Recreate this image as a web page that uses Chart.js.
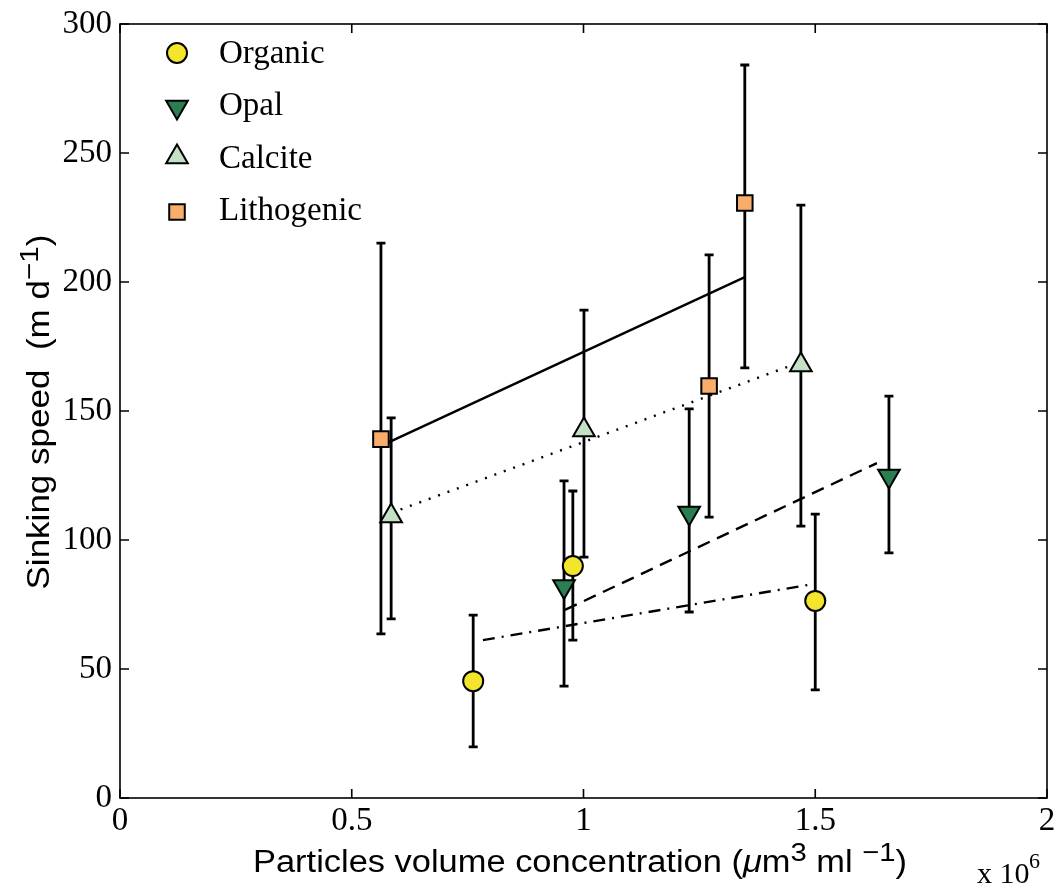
<!DOCTYPE html>
<html><head><meta charset="utf-8">
<script src="https://cdn.jsdelivr.net/npm/chart.js@4/dist/chart.umd.min.js"></script>
<style>html,body{margin:0;padding:0;background:#fff;}#wrap{width:1056px;height:888px;}</style>
</head><body><div id="wrap"><canvas id="c" width="1056" height="888"></canvas></div>
<script>
// ---- data (x in units of 10^6 µm^3/ml, y in m/d) ----
const organicX  = [0.762, 0.977, 1.500];
const organicY  = [45.3, 89.9, 76.4];
const organicLo = [19.8, 61.2, 41.9];
const organicHi = [70.9, 119.0, 110.0];

const opalX  = [0.958, 1.228, 1.659];
const opalY  = [82.0, 110.5, 124.8];
const opalLo = [43.4, 72.1, 95.0];
const opalHi = [122.9, 150.8, 155.8];

const calciteX  = [0.585, 1.001, 1.469];
const calciteY  = [109.3, 142.6, 167.8];
const calciteLo = [69.4, 93.4, 105.4];
const calciteHi = [147.3, 189.1, 229.8];

const lithoX  = [0.563, 1.271, 1.348];
const lithoY  = [139.1, 159.7, 230.6];
const lithoLo = [63.6, 108.9, 166.7];
const lithoHi = [215.1, 210.5, 284.1];

// regression lines (end points)
const organicFitX = [0.783, 1.495];
const organicFitY = [61.2, 82.9];
const opalFitX = [0.960, 1.633];
const opalFitY = [72.9, 129.8];
const calciteFitX = [0.585, 1.469];
const calciteFitY = [110.5, 169.0];
const lithoFitX = [0.563, 1.348];
const lithoFitY = [136.5, 201.9];

const seriesNames = ['Organic', 'Opal', 'Calcite', 'Lithogenic'];
const xTicks = [0, 0.5, 1, 1.5, 2];
const yTicks = [0, 50, 100, 150, 200, 250, 300];

// ---- styles ----
const colors = { Organic: '#f3e52c', Opal: '#2a7e52', Calcite: '#c4e0c7', Lithogenic: '#f9ad6b' };
const styles = {
  Organic:    { pointStyle: 'circle',   radius: 10,   rotation: 0 },
  Opal:       { pointStyle: 'triangle', radius: 12.5, rotation: 180 },
  Calcite:    { pointStyle: 'triangle', radius: 12.5, rotation: 0 },
  Lithogenic: { pointStyle: 'rect',     radius: 11,   rotation: 0 }
};

const toPts = (xs, ys) => xs.map((v, i) => ({ x: v, y: ys[i] }));

function pointSet(name, xs, ys) {
  const s = styles[name];
  return {
    label: name, data: toPts(xs, ys), showLine: false,
    pointStyle: s.pointStyle, pointRadius: s.radius, pointHoverRadius: s.radius,
    pointRotation: s.rotation, backgroundColor: colors[name],
    borderColor: '#000', borderWidth: 2, order: 0
  };
}
function fitSet(name, xs, ys, dash) {
  return {
    label: name + ' fit', data: toPts(xs, ys), showLine: true,
    pointRadius: 0, borderColor: '#000', borderWidth: 2.4, borderDash: dash,
    fill: false, order: 1
  };
}

const errorSeries = [
  { x: organicX, lo: organicLo, hi: organicHi },
  { x: opalX, lo: opalLo, hi: opalHi },
  { x: calciteX, lo: calciteLo, hi: calciteHi },
  { x: lithoX, lo: lithoLo, hi: lithoHi }
];

const errorBarPlugin = {
  id: 'errorBars',
  beforeDatasetsDraw(chart) {
    const { ctx, scales: { x, y } } = chart;
    ctx.save();
    ctx.strokeStyle = '#000'; ctx.lineWidth = 2.8;
    errorSeries.forEach(s => s.x.forEach((xv, i) => {
      const px = x.getPixelForValue(xv);
      const pl = y.getPixelForValue(s.lo[i]);
      const ph = y.getPixelForValue(s.hi[i]);
      ctx.beginPath();
      ctx.moveTo(px, pl); ctx.lineTo(px, ph);
      ctx.moveTo(px - 4.5, pl); ctx.lineTo(px + 4.5, pl);
      ctx.moveTo(px - 4.5, ph); ctx.lineTo(px + 4.5, ph);
      ctx.stroke();
    }));
    ctx.restore();
  }
};

function drawRich(ctx, segs, size, family, targetW) {
  const supSize = size * 0.85, raise = size * 0.34;
  const fontOf = s => (s.italic ? 'italic ' : '') + (s.sup ? supSize : size) + 'px ' + family;
  let w = 0;
  segs.forEach(s => { ctx.font = fontOf(s); s.w = ctx.measureText(s.t).width; w += s.w; });
  const sx = targetW ? targetW / w : 1;
  ctx.scale(sx, 1);
  let xx = -w / 2;
  ctx.textAlign = 'left'; ctx.textBaseline = 'alphabetic'; ctx.fillStyle = '#000';
  segs.forEach(s => { ctx.font = fontOf(s); ctx.fillText(s.t, xx, s.sup ? -raise : 0); xx += s.w; });
}

function drawMarker(ctx, name, x, y) {
  const s = styles[name];
  const opts = { pointStyle: s.pointStyle, radius: s.radius, rotation: s.rotation, borderWidth: 2 };
  ctx.save();
  ctx.fillStyle = colors[name]; ctx.strokeStyle = '#000'; ctx.lineWidth = 2;
  if (Chart.helpers && Chart.helpers.drawPoint) {
    Chart.helpers.drawPoint(ctx, opts, x, y);
  }
  ctx.restore();
}

const framePlugin = {
  id: 'frame',
  afterDraw(chart) {
    const { ctx, chartArea: a, scales: { x, y } } = chart;
    ctx.save();
    ctx.strokeStyle = '#000'; ctx.lineWidth = 1.6;
    ctx.strokeRect(a.left, a.top, a.right - a.left, a.bottom - a.top);
    const tl = 9;
    ctx.beginPath();
    xTicks.forEach(v => {
      const px = x.getPixelForValue(v);
      ctx.moveTo(px, a.bottom); ctx.lineTo(px, a.bottom - tl);
      ctx.moveTo(px, a.top); ctx.lineTo(px, a.top + tl);
    });
    yTicks.forEach(v => {
      const py = y.getPixelForValue(v);
      ctx.moveTo(a.left, py); ctx.lineTo(a.left + tl, py);
      ctx.moveTo(a.right, py); ctx.lineTo(a.right - tl, py);
    });
    ctx.stroke();
    ctx.restore();

    // x title
    ctx.save();
    ctx.translate(580, 872);
    drawRich(ctx, [
      { t: 'Particles volume concentration (' },
      { t: '\u03bc', italic: true },
      { t: 'm' }, { t: '3', sup: true },
      { t: ' ml ' }, { t: '\u22121', sup: true },
      { t: ')' }
    ], 31, '"Liberation Sans", Arial, sans-serif', 654);
    ctx.restore();

    // y title
    ctx.save();
    ctx.translate(49, 412);
    ctx.rotate(-Math.PI / 2);
    drawRich(ctx, [
      { t: 'Sinking speed  (m d' }, { t: '\u22121', sup: true }, { t: ')' }
    ], 31, '"Liberation Sans", Arial, sans-serif', 355);
    ctx.restore();

    // x 10^6
    ctx.save();
    ctx.fillStyle = '#000'; ctx.textBaseline = 'alphabetic'; ctx.textAlign = 'left';
    ctx.font = '30px "Liberation Serif", "Times New Roman", serif';
    ctx.fillText('x 10', 977, 883);
    ctx.font = '22px "Liberation Serif", "Times New Roman", serif';
    ctx.fillText('6', 1029, 868);
    ctx.restore();

    // legend
    const legY = [53, 105.5, 158, 210.5];
    const mOff = { Organic: 0, Opal: 1.5, Calcite: -1, Lithogenic: 1.5 };
    seriesNames.forEach((n, i) => {
      drawMarker(ctx, n, 177, legY[i] + mOff[n]);
      ctx.save();
      ctx.fillStyle = '#000'; ctx.textBaseline = 'middle'; ctx.textAlign = 'left';
      ctx.font = '33px "Liberation Serif", "Times New Roman", serif';
      ctx.fillText(n, 219, legY[i] + 1);
      ctx.restore();
    });
  }
};

const tickFontY = { family: '"Liberation Serif", "Times New Roman", serif', size: 33 };
const tickFontX = { family: '"Liberation Serif", "Times New Roman", serif', size: 33, lineHeight: 1.44 };
const fmt = v => String(v);

new Chart(document.getElementById('c'), {
  type: 'scatter',
  data: {
    datasets: [
      fitSet('Organic', organicFitX, organicFitY, [12, 7, 2, 7]),
      fitSet('Opal', opalFitX, opalFitY, [13, 8]),
      fitSet('Calcite', calciteFitX, calciteFitY, [2, 8]),
      fitSet('Lithogenic', lithoFitX, lithoFitY, []),
      pointSet('Organic', organicX, organicY),
      pointSet('Opal', opalX, opalY),
      pointSet('Calcite', calciteX, calciteY),
      pointSet('Lithogenic', lithoX, lithoY)
    ]
  },
  options: {
    responsive: false, animation: false, devicePixelRatio: 1,
    layout: { autoPadding: false, padding: { left: 0, right: 9, top: 24, bottom: 0 } },
    plugins: { legend: { display: false }, tooltip: { enabled: false } },
    scales: {
      x: {
        type: 'linear', min: 0, max: 2,
        afterBuildTicks: s => { s.ticks = xTicks.map(v => ({ value: v })); },
        afterFit: s => { s.height = 90; s.paddingLeft = 0; s.paddingRight = 0; },
        grid: { display: false, drawTicks: false }, border: { display: false },
        ticks: { font: tickFontX, color: '#000', padding: 0, maxRotation: 0, autoSkip: false, callback: fmt }
      },
      y: {
        type: 'linear', min: 0, max: 300,
        afterBuildTicks: s => { s.ticks = yTicks.map(v => ({ value: v })); },
        afterFit: s => { s.width = 120; s.paddingTop = 0; s.paddingBottom = 0; },
        grid: { display: false, drawTicks: false }, border: { display: false },
        ticks: { font: tickFontY, color: '#000', padding: 8, autoSkip: false, callback: fmt }
      }
    }
  },
  plugins: [errorBarPlugin, framePlugin]
});
</script></body></html>
